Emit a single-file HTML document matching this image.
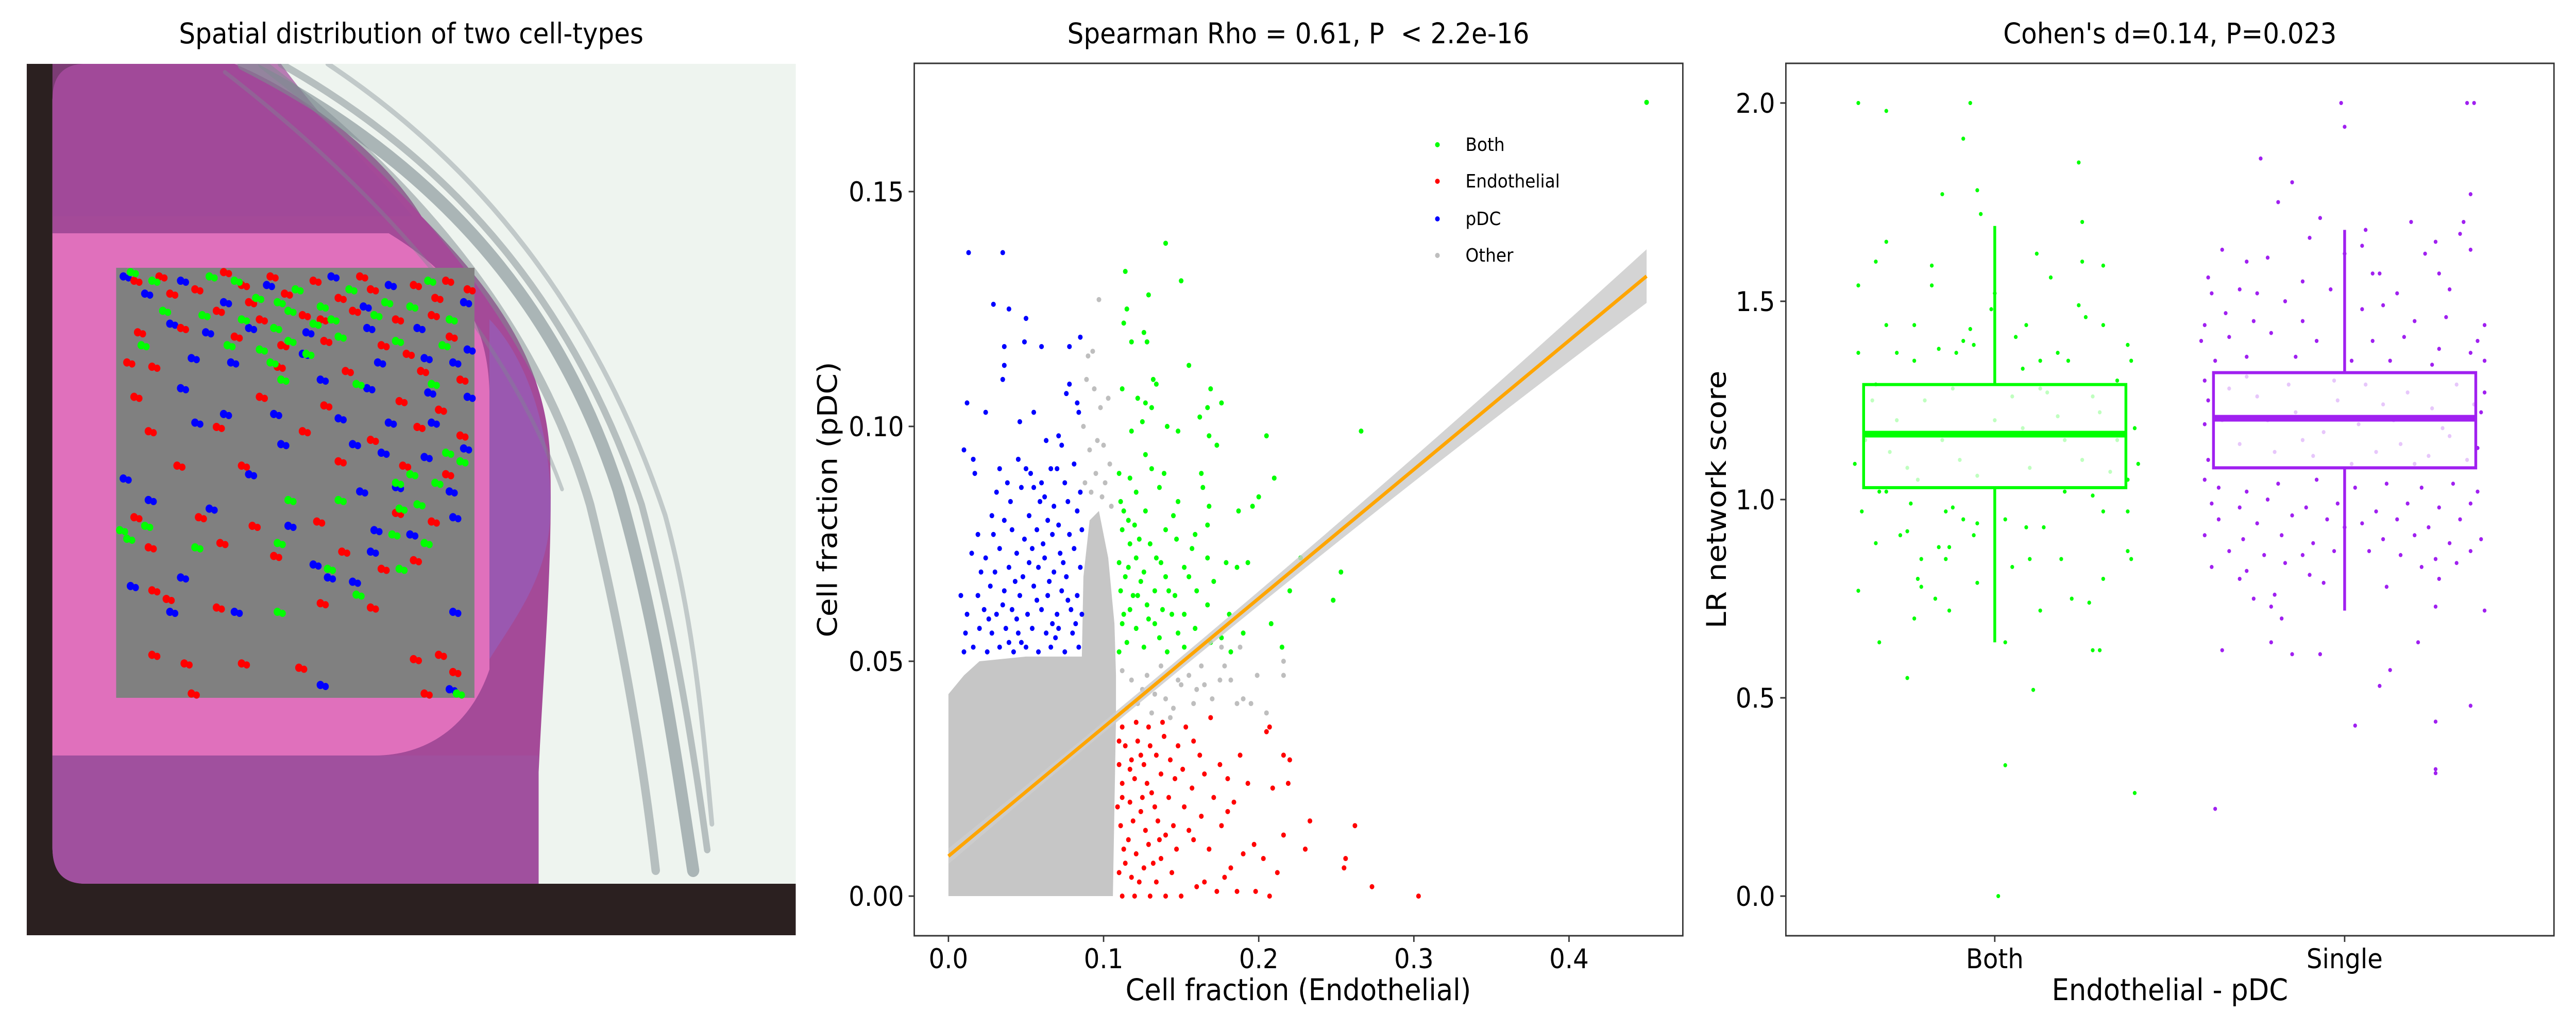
<!DOCTYPE html>
<html><head><meta charset="utf-8"><title>Endothelial - pDC colocalization</title>
<style>
html,body{margin:0;padding:0;background:#fff;overflow:hidden;width:100vw;height:100vh;}
svg{display:block;position:absolute;left:0;top:0;font-family:"DejaVu Sans","Liberation Sans",sans-serif;}
</style></head>
<body>
<svg id="fig" width="100%" height="100%" viewBox="0 0 5500 2000" preserveAspectRatio="none" xmlns="http://www.w3.org/2000/svg">
<!-- LEFT PANEL: tissue image -->
<g id="left">
  <text x="878" y="84" font-size="55" text-anchor="middle">Spatial distribution of two cell-types</text>
  <defs><clipPath id="imgclip"><rect x="57" y="124" width="1642" height="1692"/></clipPath></defs>
  <g clip-path="url(#imgclip)">
    <rect x="57" y="124" width="1642" height="1692" fill="#2b2020"/>
    <rect x="112" y="124" width="1700" height="1592" rx="70" fill="#eef4ef"/>
    <path d="M150,124 L500,124 C650,180 820,300 900,420 C1050,560 1170,700 1175,900 C1180,1100 1160,1300 1150,1500 L1150,1716 L182,1716 Q112,1716 112,1646 L112,194 Q112,124 182,124 Z" fill="#a44a98"/>
    <path d="M112,453 L830,453 C950,520 1040,600 1045,760 L1045,1300 C1000,1420 900,1467 800,1467 L112,1467 Z" fill="#e070bc"/>
    <path d="M1045,620 C1130,700 1180,850 1175,1000 C1170,1120 1100,1200 1045,1280 Z" fill="#9a58b0"/>
    <path d="M112,1467 L1150,1467 L1150,1716 L182,1716 Q112,1716 112,1646 Z" fill="#a0509e"/>
    <path d="M112,124 L600,124 C700,250 820,350 880,420 L112,420 Z" fill="#a0489a" opacity="0.7"/>
    <g fill="none" stroke="#7d8a90" stroke-linecap="round">
      <path d="M520,124 C900,300 1180,560 1320,950 C1400,1200 1440,1450 1480,1690" stroke-width="26" opacity="0.6"/>
      <path d="M600,124 C980,320 1230,600 1370,980 C1440,1220 1480,1450 1510,1650" stroke-width="14" opacity="0.5"/>
      <path d="M700,124 C1040,330 1280,620 1420,1000 C1480,1200 1500,1400 1520,1600" stroke-width="10" opacity="0.4"/>
      <path d="M560,124 C900,360 1150,640 1260,980 C1320,1200 1370,1450 1400,1690" stroke-width="18" opacity="0.5"/>
      <path d="M480,140 C820,380 1080,650 1200,950" stroke-width="8" opacity="0.4"/>
    </g>
    <rect x="248" y="520" width="765" height="835" fill="#808080"/>
    <g id="spots"></g>
  </g>
</g>

<!-- MIDDLE PANEL: scatter -->
<g id="mid">
  <text x="2772" y="84" font-size="55" text-anchor="middle" xml:space="preserve">Spearman Rho = 0.61, P  &lt; 2.2e-16</text>
  <g id="midplot"></g>
  <rect x="1952" y="123" width="1641" height="1694" fill="none" stroke="#333" stroke-width="3"/>
  <g id="midaxes"></g>
  <text x="2772" y="1942" font-size="58" text-anchor="middle">Cell fraction (Endothelial)</text>
  <text transform="translate(1787,970) rotate(-90)" font-size="58" text-anchor="middle">Cell fraction (pDC)</text>
  <g font-size="36">
    <circle cx="3069" cy="281" r="5" fill="#00ff00"/>
    <text x="3129" y="293">Both</text>
    <circle cx="3069" cy="352" r="5" fill="#ff0000"/>
    <text x="3129" y="364">Endothelial</text>
    <circle cx="3069" cy="425" r="5" fill="#0000ff"/>
    <text x="3129" y="437">pDC</text>
    <circle cx="3069" cy="496" r="5" fill="#bebebe"/>
    <text x="3129" y="508">Other</text>
  </g>
</g>

<!-- RIGHT PANEL: boxplot -->
<g id="right">
  <text x="4633" y="84" font-size="55" text-anchor="middle">Cohen's d=0.14, P=0.023</text>
  <g id="rplot"></g>
  <rect x="3813" y="123" width="1640" height="1694" fill="none" stroke="#333" stroke-width="3"/>
  <g id="raxes"></g>
  <text x="4633" y="1942" font-size="58" text-anchor="middle">Endothelial - pDC</text>
  <text transform="translate(3685,970) rotate(-90)" font-size="58" text-anchor="middle">LR network score</text>
</g>
</svg>
<script>
// ---------- scatter data ----------
const xTicks=[0.0,0.1,0.2,0.3,0.4];
const xTickLabels=["0.0","0.1","0.2","0.3","0.4"];
const yTicks=[0.00,0.05,0.10,0.15];
const yTickLabels=["0.00","0.05","0.10","0.15"];
const fitStart=[0.0,0.0085];
const fitEnd=[0.45,0.132];
const otherRegion=[[0,0],[0,0.043],[0.01,0.047],[0.02,0.050],[0.05,0.051],[0.086,0.051],[0.087,0.068],[0.091,0.080],[0.097,0.082],[0.103,0.072],[0.107,0.058],[0.108,0.047],[0.108,0.038],[0.106,0.000]];
const otherPts=[[0.097,0.127],[0.090,0.115],[0.093,0.116],[0.094,0.108],[0.096,0.097],[0.100,0.096],[0.155,0.047],[0.175,0.046],[0.182,0.046],[0.190,0.042],[0.195,0.041],[0.216,0.047],[0.216,0.050],[0.165,0.045],[0.140,0.042],[0.125,0.044],[0.205,0.039],[0.150,0.045],[0.103,0.106],[0.099,0.085],[0.088,0.088],[0.091,0.095],[0.087,0.100],[0.089,0.110],[0.095,0.090],[0.101,0.088],[0.105,0.083],[0.098,0.104],[0.092,0.086],[0.104,0.092],[0.112,0.048],[0.118,0.046],[0.122,0.041],[0.128,0.047],[0.133,0.043],[0.137,0.049],[0.145,0.040],[0.148,0.046],[0.158,0.041],[0.163,0.049],[0.170,0.042],[0.178,0.049],[0.186,0.041],[0.115,0.040],[0.131,0.039],[0.143,0.038],[0.160,0.044],[0.199,0.047],[0.176,0.053],[0.188,0.053]];
const pdcPts=[[0.013,0.137],[0.035,0.137],[0.029,0.126],[0.039,0.125],[0.050,0.123],[0.049,0.118],[0.036,0.117],[0.060,0.117],[0.078,0.117],[0.085,0.119],[0.036,0.113],[0.035,0.110],[0.078,0.109],[0.012,0.105],[0.024,0.103],[0.055,0.103],[0.046,0.101],[0.076,0.107],[0.083,0.105],[0.084,0.103],[0.010,0.095],[0.016,0.093],[0.063,0.097],[0.071,0.098],[0.073,0.096],[0.017,0.090],[0.033,0.091],[0.045,0.093],[0.050,0.091],[0.053,0.090],[0.060,0.088],[0.066,0.091],[0.070,0.091],[0.081,0.092],[0.031,0.086],[0.038,0.088],[0.047,0.087],[0.055,0.087],[0.062,0.085],[0.075,0.088],[0.085,0.086],[0.040,0.084],[0.059,0.084],[0.068,0.083],[0.077,0.084],[0.028,0.081],[0.036,0.080],[0.052,0.081],[0.064,0.080],[0.071,0.079],[0.083,0.082],[0.019,0.077],[0.029,0.077],[0.041,0.078],[0.049,0.076],[0.057,0.078],[0.067,0.077],[0.078,0.077],[0.086,0.078],[0.015,0.073],[0.024,0.072],[0.033,0.074],[0.044,0.073],[0.054,0.074],[0.062,0.072],[0.072,0.073],[0.081,0.074],[0.021,0.069],[0.030,0.069],[0.039,0.070],[0.048,0.068],[0.058,0.070],[0.068,0.069],[0.076,0.068],[0.085,0.070],[0.008,0.064],[0.019,0.064],[0.027,0.066],[0.036,0.065],[0.046,0.064],[0.055,0.066],[0.064,0.064],[0.073,0.065],[0.083,0.064],[0.012,0.060],[0.023,0.061],[0.031,0.060],[0.041,0.061],[0.051,0.060],[0.060,0.061],[0.070,0.060],[0.079,0.061],[0.086,0.060],[0.011,0.056],[0.020,0.057],[0.028,0.056],[0.037,0.057],[0.045,0.056],[0.054,0.057],[0.063,0.056],[0.071,0.057],[0.080,0.056],[0.016,0.053],[0.025,0.052],[0.033,0.053],[0.042,0.052],[0.050,0.053],[0.058,0.052],[0.066,0.053],[0.075,0.052],[0.084,0.053],[0.010,0.052],[0.047,0.054],[0.067,0.058],[0.077,0.063],[0.043,0.067],[0.061,0.075],[0.026,0.059],[0.044,0.059],[0.069,0.055],[0.082,0.058],[0.035,0.062],[0.057,0.063],[0.074,0.071],[0.052,0.071],[0.065,0.067],[0.039,0.054]];
const bothPts=[[0.450,0.169],[0.140,0.139],[0.114,0.133],[0.129,0.128],[0.150,0.131],[0.115,0.125],[0.113,0.122],[0.126,0.120],[0.128,0.118],[0.118,0.118],[0.155,0.113],[0.132,0.110],[0.134,0.109],[0.112,0.108],[0.169,0.108],[0.122,0.106],[0.127,0.105],[0.131,0.104],[0.176,0.105],[0.167,0.104],[0.162,0.102],[0.125,0.101],[0.141,0.100],[0.148,0.099],[0.205,0.098],[0.266,0.099],[0.118,0.099],[0.168,0.098],[0.173,0.096],[0.127,0.094],[0.110,0.090],[0.117,0.089],[0.131,0.091],[0.139,0.090],[0.163,0.090],[0.210,0.089],[0.121,0.086],[0.136,0.087],[0.148,0.084],[0.164,0.087],[0.200,0.085],[0.196,0.083],[0.113,0.082],[0.127,0.082],[0.145,0.081],[0.168,0.083],[0.187,0.082],[0.112,0.078],[0.120,0.079],[0.140,0.078],[0.159,0.077],[0.167,0.079],[0.117,0.075],[0.130,0.075],[0.147,0.076],[0.167,0.072],[0.179,0.071],[0.186,0.070],[0.193,0.071],[0.110,0.071],[0.121,0.072],[0.137,0.071],[0.152,0.070],[0.227,0.072],[0.114,0.068],[0.126,0.069],[0.140,0.068],[0.155,0.068],[0.171,0.067],[0.253,0.069],[0.111,0.065],[0.122,0.064],[0.133,0.065],[0.146,0.064],[0.160,0.065],[0.220,0.065],[0.248,0.063],[0.117,0.061],[0.128,0.062],[0.138,0.061],[0.152,0.060],[0.167,0.062],[0.181,0.060],[0.208,0.058],[0.112,0.058],[0.121,0.057],[0.133,0.058],[0.148,0.056],[0.159,0.057],[0.176,0.055],[0.190,0.056],[0.115,0.054],[0.126,0.053],[0.141,0.052],[0.152,0.053],[0.169,0.054],[0.182,0.052],[0.215,0.053],[0.110,0.052],[0.136,0.055],[0.144,0.060],[0.124,0.067],[0.157,0.074],[0.116,0.070],[0.119,0.064],[0.113,0.060],[0.129,0.059],[0.134,0.072],[0.142,0.065],[0.123,0.076],[0.111,0.084],[0.116,0.080]];
const endoPts=[[0.303,0.000],[0.273,0.002],[0.255,0.006],[0.256,0.008],[0.262,0.015],[0.233,0.016],[0.230,0.010],[0.216,0.013],[0.212,0.005],[0.207,0.000],[0.198,0.001],[0.203,0.008],[0.197,0.011],[0.190,0.009],[0.186,0.001],[0.182,0.006],[0.178,0.004],[0.173,0.001],[0.165,0.003],[0.160,0.002],[0.168,0.010],[0.176,0.015],[0.158,0.012],[0.150,0.000],[0.140,0.000],[0.130,0.000],[0.120,0.000],[0.112,0.000],[0.110,0.005],[0.118,0.004],[0.126,0.006],[0.134,0.003],[0.144,0.005],[0.113,0.010],[0.121,0.009],[0.129,0.011],[0.137,0.008],[0.147,0.010],[0.155,0.014],[0.111,0.015],[0.119,0.016],[0.127,0.014],[0.135,0.016],[0.145,0.015],[0.163,0.017],[0.109,0.019],[0.117,0.020],[0.125,0.021],[0.133,0.019],[0.142,0.021],[0.152,0.019],[0.171,0.021],[0.184,0.020],[0.209,0.023],[0.112,0.024],[0.120,0.025],[0.128,0.024],[0.137,0.026],[0.146,0.025],[0.157,0.023],[0.180,0.025],[0.193,0.024],[0.219,0.024],[0.110,0.028],[0.118,0.029],[0.126,0.028],[0.134,0.030],[0.143,0.029],[0.151,0.027],[0.162,0.030],[0.175,0.028],[0.216,0.030],[0.220,0.029],[0.114,0.032],[0.122,0.033],[0.130,0.032],[0.139,0.034],[0.148,0.032],[0.158,0.033],[0.205,0.035],[0.112,0.036],[0.121,0.037],[0.129,0.036],[0.138,0.037],[0.153,0.036],[0.169,0.038],[0.207,0.036],[0.116,0.012],[0.124,0.018],[0.131,0.022],[0.140,0.013],[0.110,0.033],[0.165,0.026],[0.188,0.030],[0.180,0.018],[0.114,0.007],[0.123,0.003],[0.132,0.007],[0.117,0.027],[0.124,0.030],[0.112,0.021],[0.136,0.012]];

// ---------- boxplot data ----------
const boxCats=["Both","Single"];
const boxColors=["#00ff00","#a020f0"];
const rTicks=[0.0,0.5,1.0,1.5,2.0];
const rTickLabels=["0.0","0.5","1.0","1.5","2.0"];
const boxQ1=[1.03,1.08];
const boxMed=[1.165,1.205];
const boxQ3=[1.29,1.32];
const whiskLo=[0.64,0.72];
const whiskHi=[1.69,1.68];
const bothJitter=[[-0.39,2.0],[-0.31,1.98],[-0.07,2.0],[-0.09,1.91],[0.24,1.85],[-0.05,1.78],[-0.15,1.77],[-0.04,1.72],[0.25,1.70],[-0.34,1.60],[-0.18,1.59],[-0.31,1.65],[0.12,1.62],[0.16,1.56],[0.31,1.59],[0.25,1.60],[-0.39,1.54],[-0.18,1.54],[0.0,1.52],[-0.01,1.48],[-0.31,1.44],[-0.23,1.44],[0.09,1.44],[0.06,1.41],[0.26,1.46],[0.24,1.49],[0.31,1.44],[-0.07,1.43],[-0.09,1.40],[-0.06,1.39],[0.38,1.39],[-0.39,1.37],[-0.28,1.37],[-0.16,1.38],[-0.11,1.37],[0.21,1.35],[0.18,1.37],[0.13,1.35],[0.39,1.35],[-0.23,1.35],[0.08,1.33],[-0.34,1.29],[0.13,1.28],[0.35,1.30],[0.40,1.18],[-0.40,1.09],[-0.37,1.15],[0.41,1.09],[0.38,1.05],[-0.31,1.02],[-0.38,0.97],[-0.24,0.99],[-0.14,0.97],[-0.12,0.98],[-0.05,0.94],[-0.09,0.95],[0.03,0.95],[0.09,0.93],[0.14,0.93],[0.28,1.01],[0.31,0.97],[0.38,0.97],[-0.27,0.91],[-0.25,0.92],[-0.16,0.88],[-0.13,0.88],[-0.06,0.91],[-0.34,0.89],[-0.21,0.85],[-0.14,0.85],[0.05,0.83],[0.10,0.85],[0.19,0.85],[0.38,0.87],[0.39,0.85],[-0.39,0.77],[-0.22,0.80],[-0.21,0.78],[-0.17,0.75],[-0.13,0.72],[-0.05,0.79],[0.13,0.72],[0.22,0.75],[0.27,0.74],[0.31,0.80],[-0.23,0.70],[-0.33,0.64],[0.03,0.64],[0.28,0.62],[0.30,0.62],[-0.25,0.55],[0.11,0.52],[0.03,0.33],[0.40,0.26],[0.01,0.0],[-0.33,1.02],[0.20,1.02],[-0.35,1.25],[-0.28,1.20],[-0.20,1.25],[-0.10,1.10],[0.0,1.20],[0.10,1.08],[0.20,1.15],[0.30,1.22],[-0.25,1.08],[0.05,1.26],[-0.15,1.15],[0.15,1.27],[0.25,1.10],[0.35,1.15],[-0.05,1.06],[-0.30,1.12],[0.08,1.18],[0.18,1.21],[-0.12,1.28],[0.28,1.26],[-0.22,1.05],[0.33,1.07]];
const singleJitter=[[-0.01,2.0],[0.35,2.0],[0.37,2.0],[0.0,1.94],[-0.24,1.86],[-0.15,1.80],[0.36,1.77],[-0.19,1.75],[-0.07,1.71],[0.34,1.70],[0.19,1.70],[0.06,1.68],[0.26,1.65],[-0.35,1.63],[0.05,1.64],[0.33,1.67],[-0.10,1.66],[-0.28,1.60],[-0.22,1.61],[0.36,1.63],[0.23,1.62],[0.0,1.62],[-0.39,1.56],[-0.30,1.53],[-0.12,1.55],[0.08,1.57],[0.10,1.57],[0.27,1.57],[-0.38,1.52],[-0.25,1.52],[-0.17,1.50],[-0.04,1.53],[0.15,1.52],[0.30,1.53],[-0.40,1.44],[-0.34,1.47],[-0.26,1.45],[-0.12,1.45],[0.05,1.48],[0.11,1.49],[0.20,1.45],[0.29,1.46],[0.40,1.44],[-0.41,1.40],[-0.33,1.41],[-0.21,1.42],[-0.08,1.40],[0.08,1.40],[0.17,1.41],[0.27,1.38],[0.38,1.40],[-0.37,1.35],[-0.28,1.36],[-0.14,1.36],[0.02,1.35],[0.13,1.35],[0.25,1.34],[0.36,1.37],[0.40,1.35],[-0.40,1.30],[-0.39,1.25],[0.40,1.27],[0.39,1.22],[-0.40,1.19],[0.38,1.13],[-0.39,1.10],[-0.40,1.05],[-0.36,1.03],[-0.28,1.02],[-0.19,1.04],[-0.08,1.05],[0.03,1.03],[0.12,1.04],[0.22,1.03],[0.31,1.04],[0.38,1.02],[-0.38,0.99],[-0.30,0.98],[-0.22,1.00],[-0.11,0.98],[-0.02,0.99],[0.09,0.97],[0.18,0.99],[0.27,0.98],[0.36,0.99],[-0.36,0.95],[-0.25,0.94],[-0.15,0.96],[-0.05,0.95],[0.05,0.94],[0.15,0.95],[0.24,0.93],[0.33,0.95],[-0.40,0.91],[-0.29,0.90],[-0.18,0.91],[-0.09,0.89],[0.0,0.93],[0.11,0.90],[0.20,0.91],[0.30,0.89],[0.39,0.90],[-0.33,0.87],[-0.23,0.86],[-0.12,0.86],[-0.03,0.87],[0.07,0.87],[0.16,0.86],[0.26,0.85],[0.36,0.87],[-0.38,0.83],[-0.28,0.82],[-0.17,0.84],[-0.06,0.79],[0.12,0.78],[0.22,0.83],[0.32,0.84],[-0.30,0.80],[-0.20,0.76],[-0.10,0.81],[0.27,0.80],[-0.26,0.75],[-0.21,0.73],[0.26,0.73],[0.40,0.72],[-0.18,0.70],[0.21,0.64],[-0.21,0.64],[-0.15,0.61],[-0.07,0.61],[-0.35,0.62],[0.13,0.57],[0.10,0.53],[0.36,0.48],[0.26,0.44],[0.03,0.43],[0.26,0.32],[0.26,0.31],[-0.37,0.22],[-0.33,1.28],[-0.22,1.20],[-0.12,1.15],[-0.02,1.25],[0.09,1.12],[0.18,1.27],[0.28,1.18],[0.35,1.10],[-0.30,1.14],[-0.16,1.29],[0.02,1.09],[0.14,1.20],[0.24,1.11],[0.32,1.29],[-0.25,1.26],[-0.06,1.17],[0.06,1.29],[0.20,1.09],[-0.35,1.20],[0.37,1.24],[-0.09,1.11],[0.11,1.24],[-0.20,1.12],[0.30,1.16],[-0.28,1.31],[0.16,1.14],[-0.03,1.30],[0.25,1.23],[-0.14,1.22],[0.04,1.19]];

// ---------- spatial spots (fractional coords within spot grid) ----------
const spotsRed=[[0.05,0.03],[0.12,0.02],[0.22,0.05],[0.35,0.04],[0.47,0.06],[0.55,0.03],[0.62,0.07],[0.71,0.05],[0.83,0.04],[0.92,0.03],[0.98,0.05],[0.28,0.10],[0.40,0.12],[0.52,0.11],[0.66,0.10],[0.78,0.12],[0.88,0.11],[0.06,0.15],[0.18,0.14],[0.33,0.16],[0.46,0.18],[0.58,0.17],[0.74,0.18],[0.93,0.16],[0.03,0.22],[0.10,0.23],[0.45,0.23],[0.64,0.24],[0.85,0.24],[0.96,0.26],[0.05,0.30],[0.40,0.30],[0.58,0.32],[0.79,0.31],[0.90,0.33],[0.09,0.38],[0.28,0.37],[0.52,0.38],[0.71,0.40],[0.84,0.37],[0.96,0.39],[0.17,0.46],[0.35,0.46],[0.62,0.45],[0.80,0.46],[0.92,0.48],[0.05,0.58],[0.23,0.58],[0.38,0.60],[0.56,0.59],[0.78,0.57],[0.88,0.59],[0.09,0.65],[0.29,0.64],[0.44,0.67],[0.63,0.66],[0.74,0.70],[0.83,0.68],[0.10,0.75],[0.14,0.77],[0.28,0.79],[0.57,0.78],[0.71,0.79],[0.10,0.90],[0.19,0.92],[0.35,0.92],[0.51,0.93],[0.83,0.91],[0.90,0.90],[0.94,0.94],[0.86,0.99],[0.21,0.99],[0.15,0.06],[0.30,0.01],[0.43,0.02],[0.68,0.02],[0.89,0.07],[0.37,0.08],[0.57,0.12],[0.81,0.20]];
const spotsBlue=[[0.02,0.02],[0.08,0.06],[0.18,0.03],[0.30,0.08],[0.42,0.04],[0.60,0.02],[0.69,0.09],[0.76,0.04],[0.97,0.08],[0.15,0.13],[0.25,0.15],[0.37,0.14],[0.53,0.15],[0.70,0.14],[0.84,0.14],[0.98,0.19],[0.21,0.21],[0.32,0.22],[0.52,0.20],[0.73,0.22],[0.86,0.21],[0.94,0.22],[0.57,0.26],[0.70,0.28],[0.87,0.29],[0.98,0.30],[0.18,0.28],[0.44,0.34],[0.62,0.35],[0.76,0.36],[0.88,0.36],[0.97,0.42],[0.46,0.41],[0.66,0.41],[0.74,0.43],[0.86,0.44],[0.02,0.49],[0.09,0.54],[0.26,0.56],[0.68,0.52],[0.78,0.51],[0.93,0.52],[0.48,0.60],[0.72,0.61],[0.82,0.62],[0.94,0.58],[0.55,0.69],[0.71,0.66],[0.59,0.72],[0.66,0.73],[0.18,0.72],[0.15,0.80],[0.33,0.80],[0.94,0.80],[0.93,0.98],[0.57,0.97],[0.04,0.74],[0.37,0.48],[0.30,0.34],[0.22,0.36]];
const spotsGreen=[[0.04,0.01],[0.10,0.03],[0.26,0.02],[0.33,0.03],[0.39,0.07],[0.45,0.08],[0.50,0.05],[0.57,0.09],[0.65,0.05],[0.75,0.08],[0.87,0.03],[0.13,0.10],[0.24,0.11],[0.35,0.12],[0.44,0.14],[0.48,0.10],[0.55,0.13],[0.60,0.12],[0.72,0.11],[0.82,0.09],[0.93,0.12],[0.07,0.18],[0.31,0.18],[0.40,0.19],[0.48,0.17],[0.53,0.20],[0.62,0.16],[0.78,0.17],[0.91,0.18],[0.43,0.22],[0.46,0.26],[0.67,0.27],[0.88,0.27],[0.92,0.43],[0.96,0.45],[0.89,0.50],[0.82,0.48],[0.78,0.50],[0.84,0.55],[0.79,0.56],[0.01,0.61],[0.03,0.63],[0.08,0.60],[0.22,0.65],[0.45,0.64],[0.77,0.62],[0.86,0.64],[0.79,0.70],[0.59,0.70],[0.45,0.80],[0.67,0.76],[0.95,0.99],[0.48,0.54],[0.62,0.54]];

const NS='http://www.w3.org/2000/svg';
function mk(tag,attrs,parent){const e=document.createElementNS(NS,tag);for(const k in attrs)e.setAttribute(k,attrs[k]);parent.appendChild(e);return e;}

// spatial
(function(){
  const g=document.getElementById('spots');
  const X0=248,Y0=520,W=765,H=835;
  const groups=[[spotsBlue,'#0000ff','spot-pdc'],[spotsRed,'#ff0000','spot-endothelial'],[spotsGreen,'#00ff00','spot-both']];
  for(const [arr,col,nm] of groups){
    for(const p of arr){
      const c=mk('circle',{cx:X0+p[0]*W,cy:Y0+p[1]*H,r:8,fill:col},g);
      
      
      const c2=mk('circle',{cx:X0+p[0]*W+11,cy:Y0+p[1]*H+3,r:7,fill:col},g);
      
      
    }
  }
})();

// scatter
(function(){
  const X=v=>2025+v*3312.5, Y=v=>1740-v*9120;
  const plot=document.getElementById('midplot'), ax=document.getElementById('midaxes');
  const reg=mk('polygon',{points:otherRegion.map(p=>X(p[0])+','+Y(p[1])).join(' '),fill:'#c6c6c6'},plot);
  
  
  const sets=[[otherPts,'#bebebe','point-other'],[pdcPts,'#0000ff','point-pdc'],[bothPts,'#00ff00','point-both'],[endoPts,'#ff0000','point-endothelial']];
  for(const [arr,col,nm] of sets){
    for(const p of arr){
      const c=mk('circle',{cx:X(p[0]),cy:Y(p[1]),r:5,fill:col},plot);
      
      
    }
  }
  const x0=fitStart[0],x1=fitEnd[0],xm=0.11;
  const slope=(fitEnd[1]-fitStart[1])/(x1-x0);
  const f=v=>fitStart[1]+slope*(v-x0);
  const se=v=>0.0012+Math.pow((v-xm)/0.34,2)*0.0045;
  const up=[],dn=[];
  for(let i=0;i<=30;i++){const v=x0+(x1-x0)*i/30;up.push(X(v)+','+Y(f(v)+se(v)));dn.unshift(X(v)+','+Y(f(v)-se(v)));}
  const band=mk('polygon',{points:up.concat(dn).join(' '),fill:'#cccccc',opacity:'0.85'},plot);
  
  
  const ln=mk('line',{x1:X(x0),y1:Y(f(x0)),x2:X(x1),y2:Y(f(x1)),stroke:'#ffa500','stroke-width':7},plot);
  
  
  xTicks.forEach((t,i)=>{
    const tk=mk('line',{x1:X(t),x2:X(t),y1:1817,y2:1829,stroke:'#333','stroke-width':3},ax);
    
    
    const tx=mk('text',{x:X(t),y:1880,'font-size':53,'text-anchor':'middle'},ax);
    tx.textContent=xTickLabels[i];
    
    
  });
  yTicks.forEach((t,i)=>{
    const tk=mk('line',{x1:1940,x2:1952,y1:Y(t),y2:Y(t),stroke:'#333','stroke-width':3},ax);
    
    
    const tx=mk('text',{x:1930,y:Y(t)+19,'font-size':53,'text-anchor':'end'},ax);
    tx.textContent=yTickLabels[i];
    
    
  });
})();

// boxplot
(function(){
  const centers=[4259,5006], spacing=747, half=280;
  const Y=v=>1740-v*770;
  const plot=document.getElementById('rplot'), ax=document.getElementById('raxes');
  [bothJitter,singleJitter].forEach((arr,k)=>{
    for(const p of arr){
      const c=mk('circle',{cx:centers[k]+p[0]*spacing,cy:Y(p[1]),r:4,fill:boxColors[k]},plot);
      
      
    }
  });
  boxCats.forEach((c,k)=>{
    const cx=centers[k],col=boxColors[k];
    const w1=mk('line',{x1:cx,x2:cx,y1:Y(whiskHi[k]),y2:Y(boxQ3[k]),stroke:col,'stroke-width':6},plot);
    
    
    const w2=mk('line',{x1:cx,x2:cx,y1:Y(boxQ1[k]),y2:Y(whiskLo[k]),stroke:col,'stroke-width':6},plot);
    
    
    const b=mk('rect',{x:cx-half,y:Y(boxQ3[k]),width:2*half,height:Y(boxQ1[k])-Y(boxQ3[k]),fill:'rgba(255,255,255,0.75)',stroke:col,'stroke-width':6},plot);
    
    
    const m=mk('line',{x1:cx-half,x2:cx+half,y1:Y(boxMed[k]),y2:Y(boxMed[k]),stroke:col,'stroke-width':13},plot);
    
    
    const tk=mk('line',{x1:cx,x2:cx,y1:1817,y2:1829,stroke:'#333','stroke-width':3},ax);
    
    
    const tx=mk('text',{x:cx,y:1880,'font-size':53,'text-anchor':'middle'},ax);
    tx.textContent=c;
    
    
  });
  rTicks.forEach((t,i)=>{
    const tk=mk('line',{x1:3801,x2:3813,y1:Y(t),y2:Y(t),stroke:'#333','stroke-width':3},ax);
    
    
    const tx=mk('text',{x:3790,y:Y(t)+19,'font-size':53,'text-anchor':'end'},ax);
    tx.textContent=rTickLabels[i];
    
    
  });
})();
</script>
</body></html>
